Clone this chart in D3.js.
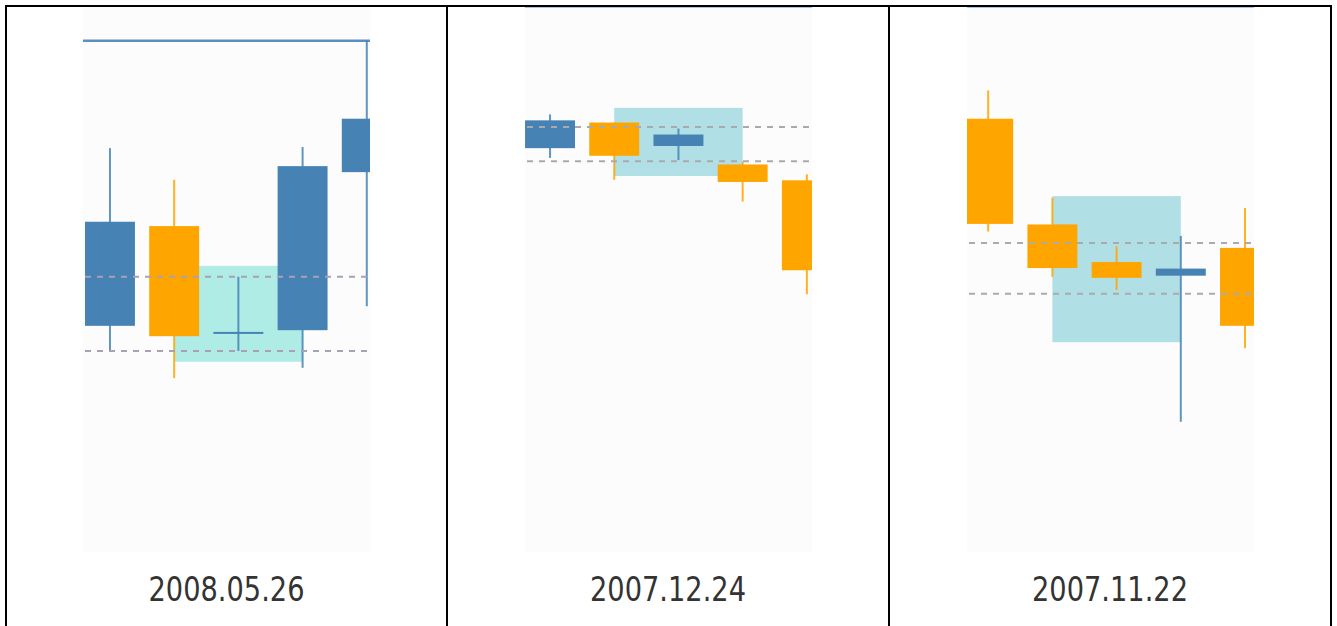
<!DOCTYPE html>
<html>
<head>
<meta charset="utf-8">
<script src="https://cdn.jsdelivr.net/npm/d3@7"></script>
<style>
  body { margin: 0; background: #fff; }
  svg { display: block; }
</style>
</head>
<body>
<div class="chart"></div>
<script>
// one entry per panel, 5 daily candles in each
var dates = ["2008.05.26", "2007.12.24", "2007.11.22"];
var opens = [
    [41.5, 59.8, 40.2, 40.7, 69.7],
    [74.1, 78.8, 74.5, 71.1, 68.2],
    [79.5, 60.1, 53.2, 50.7, 55.8]
];
var closes = [
    [60.6, 39.6, 40.2, 70.8, 79.5],
    [79.2, 72.7, 76.6, 67.9, 51.7],
    [60.2, 52.1, 50.3, 52.0, 41.5]
];
var highs = [
    [74.1, 68.3, 50.5, 74.3, 93.9],
    [80.3, 78.8, 77.7, 71.6, 69.3],
    [84.7, 65.0, 56.1, 58.0, 63.1]
];
var lows = [
    [36.9, 31.9, 36.9, 33.8, 45.1],
    [72.3, 68.3, 71.9, 64.3, 47.3],
    [58.8, 50.5, 48.1, 23.9, 37.4]
];
// shaded zone between candle 1 and candle 3
var zoneTop = [52.5, 81.5, 65.3];
var zoneBottom = [34.9, 69.0, 38.5];
// dashed levels
var levels = [[50.5, 36.9], [78.0, 71.7], [56.7, 47.4]];
// line across the top
var ceiling = [93.8, 100, 100];
// visible index window of each panel
var windows = [[-0.42, 4.05], [-0.39, 4.08], [-0.33, 4.14]];

var W = 1337, H = 626;
var cellX = [6, 447, 889, 1331];
var plotTop = 7, plotBottom = 552;
var plotW = 287;
var up = "#4682b4", down = "#ffa500";
var zoneFill = ["#afece6", "#b0dfe5", "#b0dfe5"];
var dashColor = ["#ab9fb6", "#aaaaaa", "#aaaaaa"];
var ceilStyle = [{c: "#5b8fc0", w: 2.5}, {c: "#a6c4e0", w: 2}, {c: "#a6c4e0", w: 2}];

var svg = d3.select(".chart").append("svg")
    .attr("width", W)
    .attr("height", H);

var defs = svg.append("defs");

var yScale = d3.scaleLinear().domain([0, 100]).range([plotBottom, plotTop]);

dates.forEach(function(date, p) {
    var cx = (cellX[p] + cellX[p + 1]) / 2;
    var left = Math.round(cx - plotW / 2);

    var xScale = d3.scaleLinear()
        .domain(windows[p])
        .range([left, left + plotW]);
    var step = xScale(1) - xScale(0);
    var bodyW = step * 0.778;

    defs.append("clipPath").attr("id", "clip" + p)
        .append("rect")
        .attr("x", left).attr("y", plotTop)
        .attr("width", plotW).attr("height", plotBottom - plotTop);

    var g = svg.append("g").attr("clip-path", "url(#clip" + p + ")");

    g.append("rect")
        .attr("x", left).attr("y", plotTop)
        .attr("width", plotW).attr("height", plotBottom - plotTop)
        .attr("fill", "#fcfcfc");

    g.append("rect")
        .attr("x", xScale(1))
        .attr("y", yScale(zoneTop[p]))
        .attr("width", xScale(3) - xScale(1))
        .attr("height", yScale(zoneBottom[p]) - yScale(zoneTop[p]))
        .attr("fill", zoneFill[p]);

    g.append("line")
        .attr("x1", left).attr("x2", left + plotW)
        .attr("y1", yScale(ceiling[p])).attr("y2", yScale(ceiling[p]))
        .attr("stroke", ceilStyle[p].c)
        .attr("stroke-width", ceilStyle[p].w);

    var candles = d3.range(opens[p].length).map(function(i) {
        return {i: i, o: opens[p][i], c: closes[p][i], h: highs[p][i], l: lows[p][i]};
    });

    g.selectAll(".wick")
        .data(candles)
        .enter()
        .append("line")
        .attr("class", "wick")
        .attr("x1", function(d) { return xScale(d.i); })
        .attr("x2", function(d) { return xScale(d.i); })
        .attr("y1", function(d) { return yScale(d.h); })
        .attr("y2", function(d) { return yScale(d.l); })
        .attr("stroke", function(d) { return d.c >= d.o ? up : down; })
        .attr("stroke-opacity", 0.85)
        .attr("stroke-width", 2);

    g.selectAll(".body")
        .data(candles)
        .enter()
        .append("rect")
        .attr("class", "body")
        .attr("x", function(d) { return xScale(d.i) - bodyW / 2; })
        .attr("y", function(d) {
            var hgt = Math.abs(yScale(d.o) - yScale(d.c));
            return Math.min(yScale(d.o), yScale(d.c)) - (hgt < 2 ? 1 : 0);
        })
        .attr("width", bodyW)
        .attr("height", function(d) {
            return Math.max(Math.abs(yScale(d.o) - yScale(d.c)), 2);
        })
        .attr("fill", function(d) { return d.c >= d.o ? up : down; });

    g.selectAll(".level")
        .data(levels[p])
        .enter()
        .append("line")
        .attr("class", "level")
        .attr("x1", left + 2).attr("x2", left + plotW)
        .attr("y1", function(d) { return yScale(d); })
        .attr("y2", function(d) { return yScale(d); })
        .attr("stroke", dashColor[p])
        .attr("stroke-width", 2)
        .attr("stroke-dasharray", "6,6");

    svg.append("text")
        .attr("x", cx)
        .attr("y", 601)
        .attr("text-anchor", "middle")
        .attr("font-family", "DejaVu Sans, sans-serif")
        .attr("font-size", 33)
        .attr("fill", "#333")
        .attr("textLength", 156)
        .attr("lengthAdjust", "spacingAndGlyphs")
        .text(date);
});

// table frame
svg.append("line")
    .attr("x1", 5).attr("x2", 1332)
    .attr("y1", 6).attr("y2", 6)
    .attr("stroke", "#000").attr("stroke-width", 2);
cellX.forEach(function(x) {
    svg.append("line")
        .attr("x1", x).attr("x2", x)
        .attr("y1", 5).attr("y2", H)
        .attr("stroke", "#000").attr("stroke-width", 2);
});
</script>
</body>
</html>
